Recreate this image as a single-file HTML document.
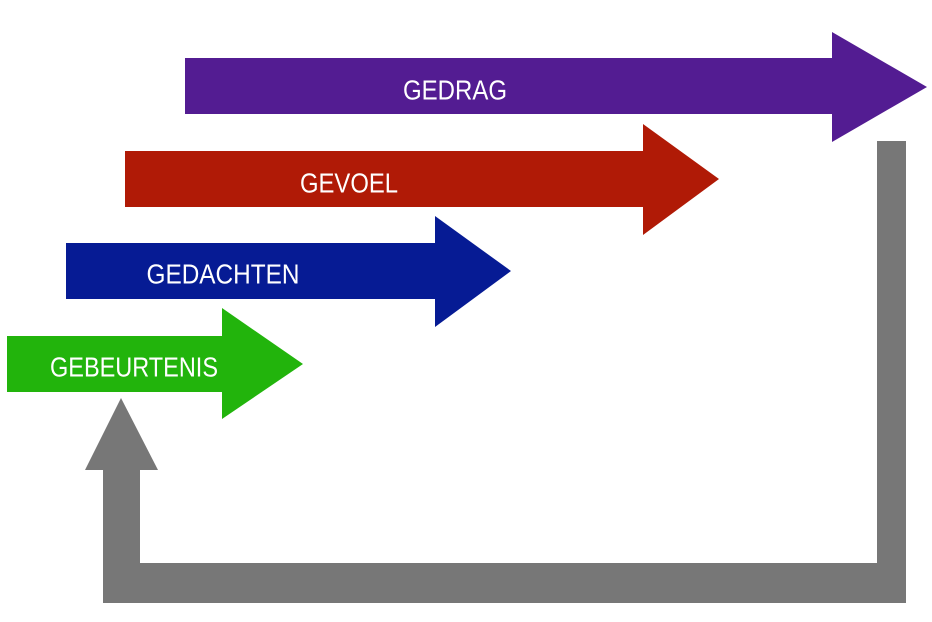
<!DOCTYPE html>
<html><head><meta charset="utf-8"><style>
html,body{margin:0;padding:0;background:#fff;}
svg{display:block;}
text{font-family:"Liberation Sans",sans-serif;font-size:28px;fill:#fff;text-anchor:middle;dominant-baseline:central;}
</style></head><body>
<svg width="932" height="622" viewBox="0 0 932 622">
<polygon fill="#531c92" points="185,58 832,58 832,32 927,87 832,142 832,114 185,114"/>
<polygon fill="#b01a06" points="125,151 643,151 643,124 719,179 643,235 643,207 125,207"/>
<polygon fill="#061b94" points="66,243 435,243 435,216 511,271 435,327 435,299 66,299"/>
<polygon fill="#22b40c" points="7,336 222,336 222,308 303,364 222,419 222,392 7,392"/>
<polygon fill="#777777" points="877,141 906,141 906,603 103,603 103,470 85,470 121,398 158,470 140,470 140,563 877,563"/>
<text x="455" y="90" textLength="104" lengthAdjust="spacingAndGlyphs">GEDRAG</text>
<text x="349" y="183" textLength="98" lengthAdjust="spacingAndGlyphs">GEVOEL</text>
<text x="223" y="274" textLength="153" lengthAdjust="spacingAndGlyphs">GEDACHTEN</text>
<text x="134" y="367" textLength="168" lengthAdjust="spacingAndGlyphs">GEBEURTENIS</text>
</svg>
</body></html>
